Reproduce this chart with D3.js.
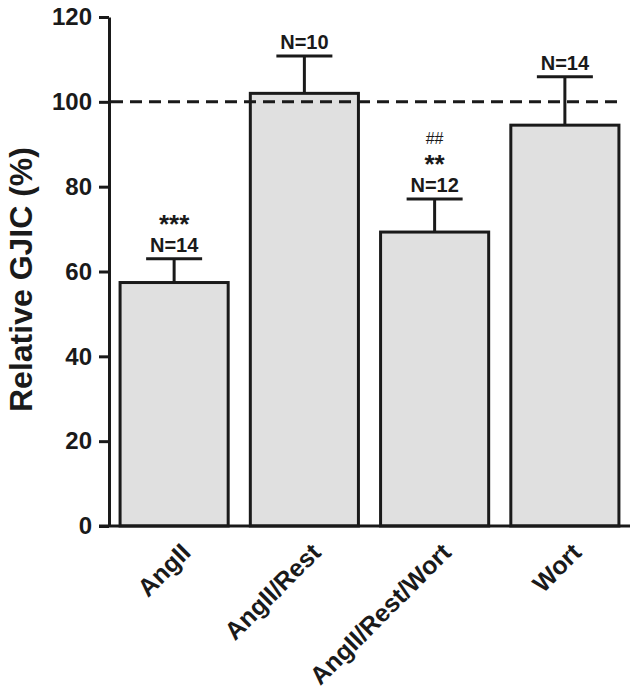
<!DOCTYPE html>
<html>
<head>
<meta charset="utf-8">
<script src="https://cdn.jsdelivr.net/npm/d3@7"></script>
<style>
  body { margin: 0; background: #fff; }
  svg text { font-family: "Liberation Sans", Arial, Helvetica, sans-serif; fill: #1a1a1a; }
</style>
</head>
<body>
<script>
const categories = ["AngII", "AngII/Rest", "AngII/Rest/Wort", "Wort"];
const means = [57.4, 102.0, 69.3, 94.5];
const errors = [5.6, 8.8, 7.8, 11.4];
const nLabels = ["N=14", "N=10", "N=12", "N=14"];
const stars = ["***", "", "**", ""];
const hashes = ["", "", "##", ""];
const yTicks = [0, 20, 40, 60, 80, 100, 120];
const referenceLine = 100;

const width = 641, height = 699;
const ink = "#1a1a1a";

const svg = d3.select("body").append("svg")
    .attr("width", width)
    .attr("height", height);

const x = d3.scaleBand()
    .domain(categories)
    .range([109, 630])
    .paddingInner(0.17)
    .paddingOuter(0.085);

const y = d3.scaleLinear()
    .domain([0, 120])
    .range([526, 17]);

// y axis
const yAxis = svg.append("g")
    .attr("transform", `translate(${x.range()[0]},0)`)
    .call(d3.axisLeft(y).tickValues(yTicks).tickSize(10).tickSizeOuter(0).tickPadding(7));

yAxis.attr("font-family", null).attr("font-size", null);
yAxis.select(".domain").attr("stroke", ink).attr("stroke-width", 3);
yAxis.selectAll(".tick line").attr("stroke", ink).attr("stroke-width", 3);
yAxis.selectAll(".tick text")
    .attr("font-size", 24)
    .attr("font-weight", "bold")
    .attr("fill", ink);

// bars
svg.selectAll("rect.bar")
    .data(categories)
    .enter().append("rect")
    .attr("class", "bar")
    .attr("x", d => x(d))
    .attr("y", (d, i) => y(means[i]))
    .attr("width", x.bandwidth())
    .attr("height", (d, i) => y(0) - y(means[i]))
    .attr("fill", "#e0e0e0")
    .attr("stroke", ink)
    .attr("stroke-width", 3);

// error bars
const cx = d => x(d) + x.bandwidth() / 2;
const capHalf = 28;

svg.selectAll("line.err")
    .data(categories)
    .enter().append("line")
    .attr("class", "err")
    .attr("x1", cx).attr("x2", cx)
    .attr("y1", (d, i) => y(means[i]))
    .attr("y2", (d, i) => y(means[i] + errors[i]))
    .attr("stroke", ink)
    .attr("stroke-width", 3);

svg.selectAll("line.cap")
    .data(categories)
    .enter().append("line")
    .attr("class", "cap")
    .attr("x1", d => cx(d) - capHalf).attr("x2", d => cx(d) + capHalf)
    .attr("y1", (d, i) => y(means[i] + errors[i]))
    .attr("y2", (d, i) => y(means[i] + errors[i]))
    .attr("stroke", ink)
    .attr("stroke-width", 3);

// x axis line
svg.append("line")
    .attr("x1", x.range()[0] - 10)
    .attr("x2", x.range()[1])
    .attr("y1", y(0)).attr("y2", y(0))
    .attr("stroke", ink)
    .attr("stroke-width", 3);

// dashed 100% line
const last = categories[categories.length - 1];
svg.append("line")
    .attr("x1", x.range()[0] + 2)
    .attr("x2", x(last) + x.bandwidth())
    .attr("y1", y(referenceLine)).attr("y2", y(referenceLine))
    .attr("stroke", ink)
    .attr("stroke-width", 3)
    .attr("stroke-dasharray", "12,7");

// N labels and significance marks
const nBase = i => y(means[i] + errors[i]) - 7;

svg.selectAll("text.n")
    .data(categories)
    .enter().append("text")
    .attr("class", "n")
    .attr("x", cx)
    .attr("y", (d, i) => nBase(i))
    .attr("text-anchor", "middle")
    .style("font-size", "20px")
    .style("font-weight", "bold")
    .text((d, i) => nLabels[i]);

svg.selectAll("text.star")
    .data(categories)
    .enter().append("text")
    .attr("class", "star")
    .attr("x", cx)
    .attr("y", (d, i) => nBase(i) - 19)
    .attr("text-anchor", "middle")
    .style("font-size", "26px")
    .style("font-weight", "bold")
    .text((d, i) => stars[i]);

svg.selectAll("text.hash")
    .data(categories)
    .enter().append("text")
    .attr("class", "hash")
    .attr("x", cx)
    .attr("y", (d, i) => nBase(i) - 48)
    .attr("text-anchor", "middle")
    .style("font-size", "16px")
    .text((d, i) => hashes[i]);

// category labels
svg.selectAll("text.cat")
    .data(categories)
    .enter().append("text")
    .attr("class", "cat")
    .attr("text-anchor", "end")
    .attr("transform", d => `translate(${cx(d) + 18},554) rotate(-45)`)
    .style("font-size", "25px")
    .style("font-weight", "bold")
    .text(d => d);

// y title
svg.append("text")
    .attr("text-anchor", "middle")
    .attr("transform", `translate(32,${(y(0) + y(120)) / 2 + 8}) rotate(-90)`)
    .style("font-size", "32px")
    .style("font-weight", "bold")
    .text("Relative GJIC (%)");
</script>
</body>
</html>
